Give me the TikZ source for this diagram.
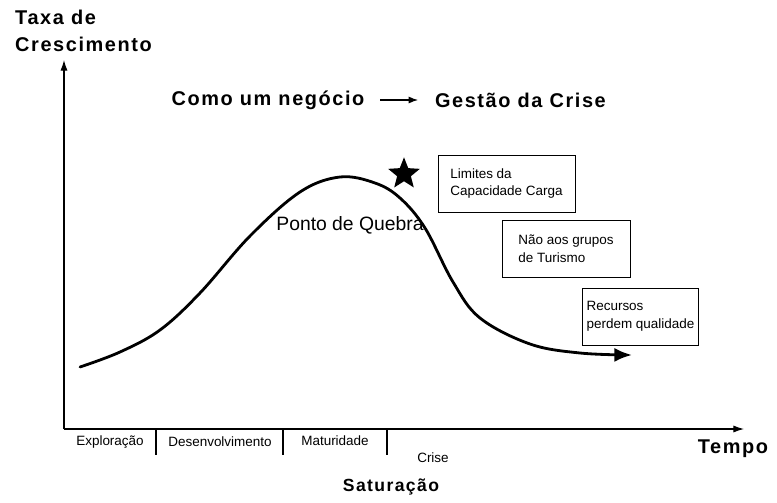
\documentclass[tikz,border=0pt]{standalone}
\usepackage{fontspec}
\setmainfont{Liberation Sans}
\newfontfamily\headfont[LetterSpace=8]{Liberation Sans Bold}
\usetikzlibrary{shapes.geometric, arrows.meta, positioning}

\begin{document}
\begin{tikzpicture}[
    x=0.03cm, y=-0.03cm,
    head/.style={font=\headfont\fontsize{17}{23}\selectfont, align=left, inner sep=0pt},
    title/.style={font=\headfont\fontsize{17}{20}\selectfont},
    phase/.style={font=\fontsize{11.5}{14}\selectfont},
    note/.style={rectangle, draw, line width=0.8pt, align=left, minimum height=1.71cm, font=\fontsize{11.5}{15.3}\selectfont},
    axis/.style={-{Latex[length=9pt, width=6pt]}, line width=0.9pt},
    curve/.style={-{Latex[length=15pt, width=12pt]}, line width=2.4pt, line cap=round},
    arrow/.style={-{Latex[length=8pt, width=6pt]}, line width=0.9pt}
  ]
  \useasboundingbox (0,0) rectangle (777,503);

  % axes
  \coordinate (o) at (64,429);
  \coordinate (ytop) at (64,60);
  \coordinate (xend) at (744,429);
  \draw[axis] (o) -- (ytop);
  \draw[axis] (o) -- (xend);

  \node[head, anchor=north west] (taxa) at (15,10) {Taxa de\\Crescimento};
  \node[head] (tempo) at (733,449) {Tempo};
  \node[head, font=\headfont\fontsize{15}{18}\selectfont] (sat) at (391,487) {Saturação};

  % title
  \node[title] (neg) at (268,100) {Como um negócio};
  \node[title, right=1.87cm of neg] (crise) {Gestão da Crise};
  \draw[arrow, shorten <=10pt, shorten >=11pt] (neg) -- (crise);

  % phases
  \draw[line width=0.9pt] (156,429) -- (156,455);
  \draw[line width=0.9pt] (283,429) -- (283,455);
  \draw[line width=0.9pt] (387,429) -- (387,455);
  \node[phase] (expl) at (110,442) {Exploração};
  \node[phase] (desen) at (220,442) {Desenvolvimento};
  \node[phase] (mat) at (335,441) {Maturidade};
  \node[phase] (cri) at (433,458) {Crise};

  % growth curve
  \draw[curve] plot[smooth, tension=0.6] coordinates {(80,367) (120,352) (160,330) (200,293) (250,236) (300,192) (340,177) (375,183) (400,198) (425,228) (453,282) (480,318) (530,344) (580,353) (632,355)};
  \node[font=\fontsize{16.5}{20}\selectfont] (quebra) at (350,225) {Ponto de Quebra};
  \node[star, star points=5, star point ratio=2.3, fill=black, minimum size=1cm, inner sep=0pt] (pico) at (404,174) {};

  % notes
  \node[note, minimum width=4.11cm] (lim) at (506.5,183.5) {Limites da\\Capacidade Carga};
  \node[note, minimum width=3.84cm] (grupos) at (566,249) {Não aos grupos\\de Turismo};
  \node[note, minimum width=3.45cm] (rec) at (640.5,316.5) {Recursos\\perdem qualidade};
\end{tikzpicture}
\end{document}
